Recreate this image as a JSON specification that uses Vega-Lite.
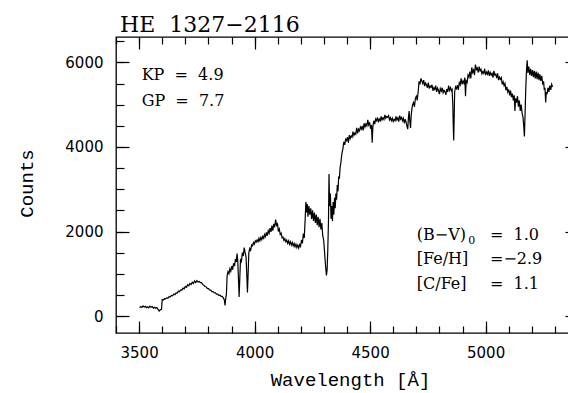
{
  "$schema": "https://vega.github.io/schema/vega-lite/v6.json",
  "width": 462,
  "height": 296,
  "autosize": {"type": "none"},
  "padding": {"left": 116, "top": 37, "right": -10, "bottom": 60},
  "background": "white",
  "title": {"text": "HE\u00a0\u00a01327−2116", "anchor": "start", "frame": "group", "font": "DejaVu Serif", "fontSize": 22, "fontWeight": "normal", "color": "black", "offset": -18, "baseline": "alphabetic", "dx": 4},
  "config": {
    "view": {"stroke": "black", "strokeWidth": 1.3},
    "axis": {"domain": false, "grid": false, "tickColor": "black", "tickWidth": 1.2, "labelColor": "black", "titleColor": "black", "labelFont": "DejaVu Sans", "labelFontSize": 15, "titleFont": "Liberation Mono", "titleFontSize": 19, "titleFontWeight": "normal"}
  },
  "datasets": {
    "spec": [
      {"w":3502,"c":200},{"w":3507,"c":225},{"w":3512,"c":205},{"w":3517,"c":240},{"w":3522,"c":215},{"w":3527,"c":230},{"w":3532,"c":200},{"w":3537,"c":220},{"w":3542,"c":195},{"w":3547,"c":235},{"w":3552,"c":210},{"w":3557,"c":225},{"w":3562,"c":190},{"w":3567,"c":210},{"w":3572,"c":185},{"w":3577,"c":200},{"w":3582,"c":160},{"w":3587,"c":120},{"w":3592,"c":150},{"w":3597,"c":160},
      {"w":3600,"c":390},{"w":3605,"c":380},{"w":3610,"c":410},{"w":3615,"c":405},{"w":3620,"c":430},{"w":3625,"c":425},{"w":3630,"c":460},{"w":3635,"c":455},{"w":3640,"c":490},{"w":3645,"c":480},{"w":3650,"c":520},{"w":3655,"c":505},{"w":3660,"c":550},{"w":3665,"c":545},{"w":3670,"c":590},{"w":3675,"c":575},{"w":3680,"c":620},{"w":3685,"c":615},{"w":3690,"c":660},{"w":3695,"c":645},{"w":3700,"c":700},{"w":3705,"c":680},{"w":3710,"c":740},{"w":3715,"c":715},{"w":3720,"c":770},{"w":3725,"c":745},{"w":3730,"c":800},{"w":3735,"c":770},{"w":3740,"c":830},{"w":3745,"c":790},{"w":3750,"c":840},{"w":3755,"c":805},{"w":3760,"c":820},{"w":3765,"c":790},{"w":3770,"c":790},{"w":3775,"c":750},{"w":3780,"c":730},{"w":3785,"c":700},{"w":3790,"c":695},{"w":3795,"c":655},{"w":3800,"c":650},{"w":3805,"c":620},{"w":3810,"c":615},{"w":3815,"c":580},{"w":3820,"c":580},{"w":3825,"c":555},{"w":3830,"c":550},{"w":3835,"c":520},{"w":3840,"c":520},{"w":3845,"c":490},{"w":3850,"c":495},{"w":3855,"c":465},{"w":3860,"c":465},{"w":3865,"c":425},
      {"w":3869,"c":380},{"w":3872,"c":250},{"w":3875,"c":420},{"w":3878,"c":520},{"w":3881,"c":950},{"w":3885,"c":1050},{"w":3889,"c":1000},{"w":3893,"c":1120},{"w":3897,"c":1060},{"w":3901,"c":1180},{"w":3905,"c":1100},{"w":3909,"c":1250},{"w":3913,"c":1180},{"w":3917,"c":1350},{"w":3921,"c":1280},{"w":3924,"c":1480},{"w":3927,"c":1300},{"w":3930,"c":900},{"w":3933,"c":450},{"w":3936,"c":900},{"w":3939,"c":1350},{"w":3943,"c":1300},{"w":3947,"c":1500},{"w":3951,"c":1420},{"w":3955,"c":1620},{"w":3959,"c":1500},{"w":3963,"c":1400},{"w":3966,"c":1000},{"w":3969,"c":560},{"w":3972,"c":1000},{"w":3975,"c":1500},
      {"w":3979,"c":1600},{"w":3983,"c":1560},{"w":3987,"c":1680},{"w":3991,"c":1660},{"w":3995,"c":1740},{"w":3999,"c":1700},{"w":4003,"c":1780},{"w":4007,"c":1750},{"w":4011,"c":1800},{"w":4015,"c":1760},{"w":4019,"c":1840},{"w":4023,"c":1780},{"w":4027,"c":1860},{"w":4031,"c":1810},{"w":4035,"c":1900},{"w":4039,"c":1820},{"w":4043,"c":1930},{"w":4047,"c":1880},{"w":4051,"c":1980},{"w":4055,"c":1900},{"w":4059,"c":2020},{"w":4063,"c":1960},{"w":4067,"c":2080},{"w":4071,"c":1990},{"w":4075,"c":2140},{"w":4079,"c":2020},{"w":4083,"c":2180},{"w":4087,"c":2100},{"w":4091,"c":2280},{"w":4095,"c":2150},{"w":4099,"c":2180},{"w":4103,"c":2000},{"w":4107,"c":2060},{"w":4111,"c":1930},{"w":4115,"c":1960},{"w":4119,"c":1850},{"w":4123,"c":1870},{"w":4127,"c":1790},{"w":4131,"c":1830},{"w":4135,"c":1760},{"w":4139,"c":1800},{"w":4143,"c":1720},{"w":4147,"c":1780},{"w":4151,"c":1700},{"w":4155,"c":1760},{"w":4159,"c":1680},{"w":4163,"c":1740},{"w":4167,"c":1660},{"w":4171,"c":1720},{"w":4175,"c":1640},{"w":4179,"c":1700},{"w":4183,"c":1620},{"w":4187,"c":1680},{"w":4191,"c":1610},{"w":4195,"c":1690},{"w":4199,"c":1650},
      {"w":4203,"c":1800},{"w":4207,"c":1720},{"w":4211,"c":1950},{"w":4215,"c":1850},{"w":4219,"c":2300},{"w":4222,"c":2700},{"w":4225,"c":2450},{"w":4228,"c":2650},{"w":4231,"c":2350},{"w":4235,"c":2600},{"w":4239,"c":2400},{"w":4243,"c":2550},{"w":4247,"c":2300},{"w":4251,"c":2500},{"w":4255,"c":2250},{"w":4259,"c":2450},{"w":4263,"c":2200},{"w":4267,"c":2400},{"w":4271,"c":2150},{"w":4275,"c":2350},{"w":4279,"c":2100},{"w":4283,"c":2300},{"w":4287,"c":2050},{"w":4291,"c":2200},{"w":4295,"c":1900},{"w":4299,"c":1800},{"w":4303,"c":1500},{"w":4307,"c":1200},{"w":4311,"c":960},{"w":4314,"c":1100},{"w":4317,"c":1600},{"w":4320,"c":2300},{"w":4322,"c":3360},{"w":4325,"c":2600},{"w":4328,"c":2900},{"w":4331,"c":2300},{"w":4334,"c":2600},{"w":4337,"c":2250},{"w":4340,"c":2700},{"w":4343,"c":2400},{"w":4346,"c":2800},{"w":4349,"c":2550},{"w":4352,"c":2900},{"w":4355,"c":2750},{"w":4358,"c":3100},{"w":4361,"c":2950},{"w":4364,"c":3300},{"w":4367,"c":3250},{"w":4370,"c":3500},{"w":4374,"c":3650},{"w":4378,"c":3850},
      {"w":4382,"c":3950},{"w":4386,"c":4120},{"w":4390,"c":4050},{"w":4394,"c":4180},{"w":4398,"c":4150},{"w":4402,"c":4230},{"w":4406,"c":4100},{"w":4410,"c":4280},{"w":4414,"c":4200},{"w":4418,"c":4260},{"w":4422,"c":4230},{"w":4426,"c":4360},{"w":4430,"c":4270},{"w":4434,"c":4330},{"w":4438,"c":4300},{"w":4442,"c":4450},{"w":4446,"c":4320},{"w":4450,"c":4420},{"w":4454,"c":4380},{"w":4458,"c":4470},{"w":4462,"c":4420},{"w":4466,"c":4500},{"w":4470,"c":4390},{"w":4474,"c":4560},{"w":4478,"c":4470},{"w":4482,"c":4540},{"w":4486,"c":4500},{"w":4490,"c":4640},{"w":4494,"c":4520},{"w":4498,"c":4580},{"w":4502,"c":4430},{"w":4506,"c":4520},{"w":4509,"c":4100},{"w":4512,"c":4480},{"w":4516,"c":4620},{"w":4520,"c":4540},{"w":4524,"c":4660},{"w":4528,"c":4620},{"w":4532,"c":4700},{"w":4536,"c":4580},{"w":4540,"c":4660},{"w":4544,"c":4620},{"w":4548,"c":4720},{"w":4552,"c":4640},{"w":4556,"c":4690},{"w":4560,"c":4650},{"w":4564,"c":4760},{"w":4568,"c":4680},{"w":4572,"c":4720},{"w":4576,"c":4700},{"w":4580,"c":4740},{"w":4584,"c":4640},{"w":4588,"c":4690},{"w":4592,"c":4620},{"w":4596,"c":4680},{"w":4600,"c":4600},{"w":4604,"c":4650},{"w":4608,"c":4620},{"w":4612,"c":4720},{"w":4616,"c":4640},{"w":4620,"c":4690},{"w":4624,"c":4600},{"w":4628,"c":4740},{"w":4632,"c":4660},{"w":4636,"c":4700},{"w":4640,"c":4620},{"w":4644,"c":4680},{"w":4648,"c":4560},{"w":4652,"c":4660},{"w":4656,"c":4580},{"w":4660,"c":4480},
      {"w":4663,"c":4420},{"w":4666,"c":4700},{"w":4669,"c":4850},{"w":4672,"c":4600},{"w":4675,"c":4450},{"w":4678,"c":4750},{"w":4681,"c":4900},{"w":4684,"c":5000},{"w":4688,"c":5050},{"w":4692,"c":4950},{"w":4696,"c":5150},{"w":4700,"c":5200},{"w":4704,"c":5100},{"w":4708,"c":5300},
      {"w":4712,"c":5550},{"w":4716,"c":5480},{"w":4720,"c":5620},{"w":4724,"c":5560},{"w":4728,"c":5500},{"w":4732,"c":5580},{"w":4736,"c":5440},{"w":4740,"c":5510},{"w":4744,"c":5470},{"w":4748,"c":5400},{"w":4752,"c":5520},{"w":4756,"c":5380},{"w":4760,"c":5440},{"w":4764,"c":5410},{"w":4768,"c":5470},{"w":4772,"c":5330},{"w":4776,"c":5400},{"w":4780,"c":5360},{"w":4784,"c":5450},{"w":4788,"c":5300},{"w":4792,"c":5390},{"w":4796,"c":5340},{"w":4800,"c":5250},{"w":4804,"c":5380},{"w":4808,"c":5320},{"w":4812,"c":5400},{"w":4816,"c":5280},{"w":4820,"c":5340},{"w":4824,"c":5310},{"w":4828,"c":5230},{"w":4832,"c":5370},{"w":4836,"c":5300},{"w":4840,"c":5450},{"w":4844,"c":5340},{"w":4848,"c":5400},{"w":4852,"c":5330},{"w":4855,"c":5360},{"w":4858,"c":5000},{"w":4860,"c":4500},{"w":4862,"c":4150},{"w":4864,"c":4700},
      {"w":4866,"c":5300},{"w":4870,"c":5420},{"w":4874,"c":5380},{"w":4878,"c":5460},{"w":4882,"c":5350},{"w":4886,"c":5520},{"w":4890,"c":5470},{"w":4894,"c":5620},{"w":4898,"c":5480},{"w":4902,"c":5560},{"w":4906,"c":5510},{"w":4910,"c":5640},{"w":4913,"c":5200},{"w":4916,"c":5560},{"w":4920,"c":5520},{"w":4924,"c":5700},{"w":4928,"c":5650},{"w":4932,"c":5780},{"w":4936,"c":5620},{"w":4940,"c":5880},{"w":4944,"c":5760},{"w":4948,"c":5820},{"w":4952,"c":5700},{"w":4956,"c":5950},{"w":4960,"c":5830},{"w":4964,"c":5870},{"w":4968,"c":5760},{"w":4972,"c":5900},{"w":4976,"c":5800},{"w":4980,"c":5840},{"w":4984,"c":5730},{"w":4988,"c":5780},{"w":4992,"c":5740},{"w":4996,"c":5850},{"w":5000,"c":5700},{"w":5004,"c":5770},{"w":5008,"c":5720},{"w":5012,"c":5810},{"w":5016,"c":5680},{"w":5020,"c":5760},{"w":5024,"c":5700},{"w":5028,"c":5740},{"w":5032,"c":5640},{"w":5036,"c":5800},{"w":5040,"c":5700},{"w":5044,"c":5720},{"w":5048,"c":5630},{"w":5052,"c":5740},{"w":5056,"c":5580},{"w":5060,"c":5650},{"w":5064,"c":5600},{"w":5068,"c":5640},{"w":5072,"c":5480},{"w":5076,"c":5540},{"w":5080,"c":5450},{"w":5084,"c":5500},{"w":5088,"c":5340},{"w":5092,"c":5420},{"w":5096,"c":5300},{"w":5100,"c":5360},{"w":5104,"c":5220},{"w":5108,"c":5330},{"w":5112,"c":5180},{"w":5116,"c":5260},{"w":5120,"c":5100},{"w":5124,"c":5220},
      {"w":5127,"c":4850},{"w":5130,"c":5150},{"w":5134,"c":5050},{"w":5138,"c":5200},{"w":5142,"c":4950},{"w":5146,"c":5100},{"w":5150,"c":4850},{"w":5154,"c":5000},{"w":5158,"c":4800},{"w":5162,"c":4700},{"w":5165,"c":4500},{"w":5168,"c":4250},{"w":5171,"c":4800},{"w":5174,"c":5400},{"w":5177,"c":5800},{"w":5180,"c":6050},{"w":5183,"c":5750},{"w":5187,"c":5900},{"w":5191,"c":5700},{"w":5195,"c":5850},{"w":5199,"c":5680},{"w":5203,"c":5820},{"w":5207,"c":5650},{"w":5211,"c":5800},{"w":5215,"c":5620},{"w":5219,"c":5780},{"w":5223,"c":5600},{"w":5227,"c":5760},{"w":5231,"c":5580},{"w":5235,"c":5720},{"w":5239,"c":5560},{"w":5243,"c":5680},{"w":5247,"c":5500},{"w":5251,"c":5550},{"w":5254,"c":5350},{"w":5257,"c":5400},{"w":5260,"c":5050},{"w":5263,"c":5300},{"w":5266,"c":5250},{"w":5270,"c":5400},{"w":5274,"c":5300},{"w":5278,"c":5450},{"w":5282,"c":5350},{"w":5286,"c":5480},{"w":5290,"c":5420}
    ],
    "notesLeft": [
      {"w": 3511, "c": 5583, "label": "KP\u00a0\u00a0=\u00a0\u00a04.9"},
      {"w": 3511, "c": 4968, "label": "GP\u00a0\u00a0=\u00a0\u00a07.7"}
    ],
    "notesRight": [
      {"w": 4702, "c": 1799, "label": "(B−V)"},
      {"w": 5019, "c": 1799, "label": "=\u00a0\u00a01.0"},
      {"w": 4702, "c": 1225, "label": "[Fe/H]"},
      {"w": 5019, "c": 1225, "label": "=−2.9"},
      {"w": 4702, "c": 652, "label": "[C/Fe]"},
      {"w": 5019, "c": 652, "label": "=\u00a0\u00a01.1"}
    ],
    "notesSub": [
      {"w": 4925, "c": 1705, "label": "0"}
    ]
  },
  "layer": [
    {
      "data": {"name": "spec"},
      "mark": {"type": "line", "color": "black", "strokeWidth": 1.2, "clip": true},
      "encoding": {
        "x": {"field": "w", "type": "quantitative", "scale": {"domain": [3400, 5400], "nice": false, "zero": false},
          "axis": {"orient": "bottom", "values": [3500, 4000, 4500, 5000], "format": "d", "tickSize": -12, "labelPadding": 24, "labelFlush": false, "labelOverlap": false,
            "title": "Wavelength [Å]", "titleX": 234, "titleY": 52, "titleBaseline": "alphabetic", "titleAlign": "center", "titleAnchor": null}},
        "y": {"field": "c", "type": "quantitative", "scale": {"domain": [-400, 6600], "nice": false, "zero": false},
          "axis": {"orient": "left", "values": [0, 2000, 4000, 6000], "format": "d", "tickSize": -13, "labelPadding": 26, "labelFlush": false, "labelOverlap": false,
            "title": "Counts", "titleX": -84, "titleY": 146, "titleBaseline": "alphabetic", "titleAlign": "center", "titleAngle": -90}}
      }
    },
    {
      "data": {"name": "notesLeft"},
      "mark": {"type": "text", "align": "left", "baseline": "alphabetic", "font": "DejaVu Serif", "fontSize": 16, "color": "black"},
      "encoding": {
        "x": {"field": "w", "type": "quantitative", "scale": {"domain": [3400, 5400], "nice": false, "zero": false},
          "axis": {"orient": "bottom", "values": [3400, 3500, 3600, 3700, 3800, 3900, 4000, 4100, 4200, 4300, 4400, 4500, 4600, 4700, 4800, 4900, 5000, 5100, 5200, 5300, 5400], "tickSize": -7, "labels": false, "title": null}},
        "y": {"field": "c", "type": "quantitative", "scale": {"domain": [-400, 6600], "nice": false, "zero": false},
          "axis": {"orient": "left", "values": [0, 500, 1000, 1500, 2000, 2500, 3000, 3500, 4000, 4500, 5000, 5500, 6000, 6500], "tickSize": -8, "labels": false, "title": null}},
        "text": {"field": "label"}
      }
    },
    {
      "data": {"name": "notesRight"},
      "mark": {"type": "text", "align": "left", "baseline": "alphabetic", "font": "DejaVu Serif", "fontSize": 16, "color": "black"},
      "encoding": {
        "x": {"field": "w", "type": "quantitative", "scale": {"domain": [3400, 5400], "nice": false, "zero": false},
          "axis": {"orient": "top", "values": [3500, 4000, 4500, 5000], "tickSize": -12, "labels": false, "title": null}},
        "y": {"field": "c", "type": "quantitative", "scale": {"domain": [-400, 6600], "nice": false, "zero": false},
          "axis": {"orient": "right", "values": [0, 2000, 4000, 6000], "tickSize": -13, "labels": false, "title": null}},
        "text": {"field": "label"}
      }
    },
    {
      "data": {"name": "notesSub"},
      "mark": {"type": "text", "align": "left", "baseline": "alphabetic", "font": "DejaVu Serif", "fontSize": 11, "color": "black"},
      "encoding": {
        "x": {"field": "w", "type": "quantitative", "scale": {"domain": [3400, 5400], "nice": false, "zero": false},
          "axis": {"orient": "top", "values": [3400, 3500, 3600, 3700, 3800, 3900, 4000, 4100, 4200, 4300, 4400, 4500, 4600, 4700, 4800, 4900, 5000, 5100, 5200, 5300, 5400], "tickSize": -7, "labels": false, "title": null}},
        "y": {"field": "c", "type": "quantitative", "scale": {"domain": [-400, 6600], "nice": false, "zero": false},
          "axis": {"orient": "right", "values": [0, 500, 1000, 1500, 2000, 2500, 3000, 3500, 4000, 4500, 5000, 5500, 6000, 6500], "tickSize": -8, "labels": false, "title": null}},
        "text": {"field": "label"}
      }
    }
  ],
  "resolve": {"axis": {"x": "independent", "y": "independent"}}
}
